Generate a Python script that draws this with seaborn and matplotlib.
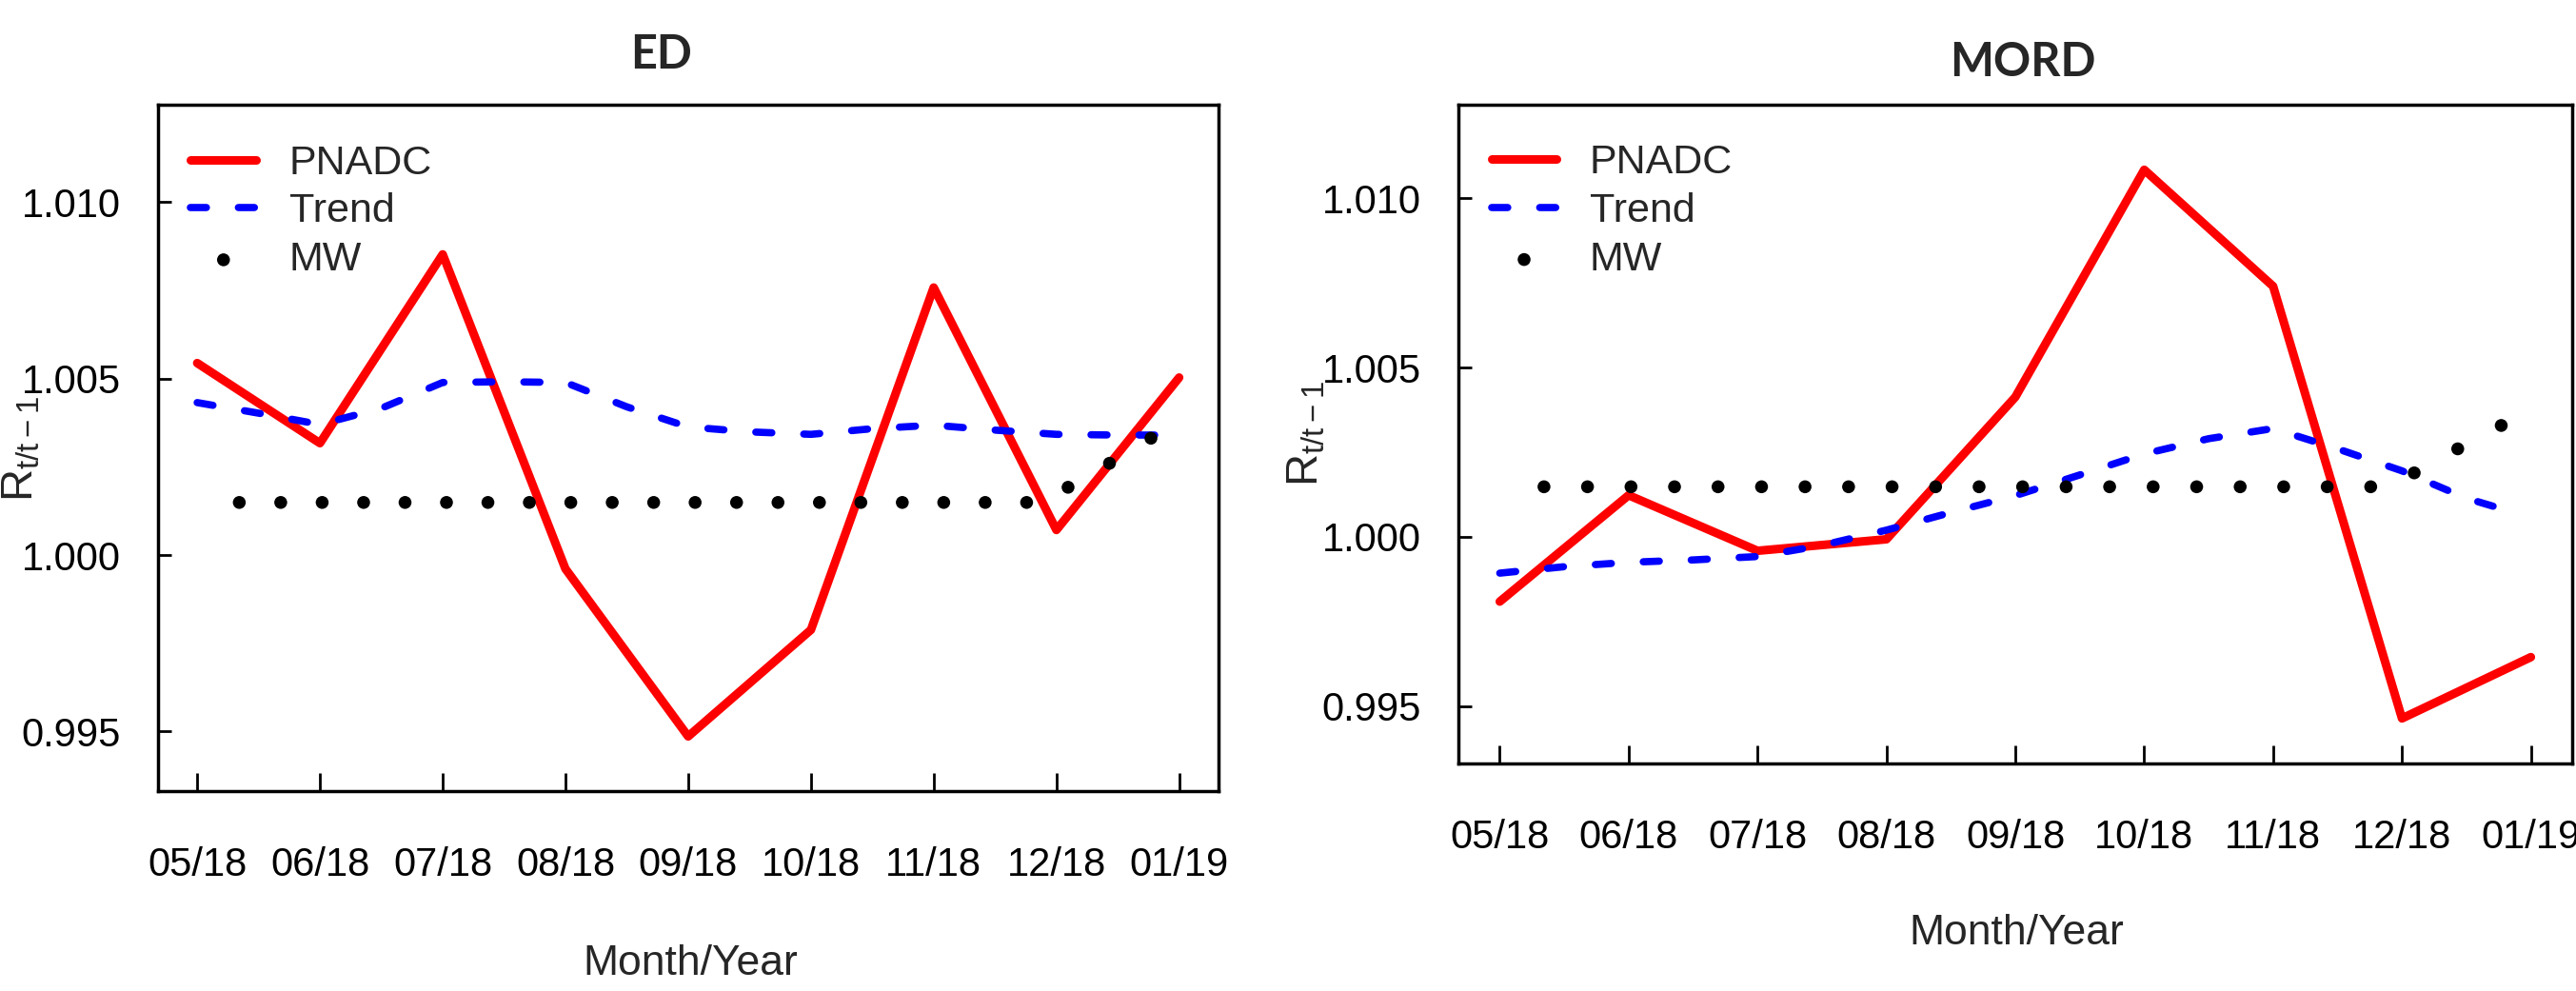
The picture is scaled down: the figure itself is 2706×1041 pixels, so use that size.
import numpy as np
import pandas as pd
import matplotlib.pyplot as plt
import seaborn as sns

# Data
months = ["05/18", "06/18", "07/18", "08/18", "09/18", "10/18", "11/18", "12/18", "01/19"]

ed_pnadc = [1.00544, 1.00317, 1.00852, 0.99961, 0.99486, 0.99788, 1.00758, 1.00071, 1.00503]
mord_pnadc = [0.99809, 1.00123, 0.99959, 0.99993, 1.00413, 1.01084, 1.00740, 0.99464, 0.99645]

# trend curves sampled every half month
trend_x = [0, 0.5, 1, 1.5, 2, 2.5, 3, 3.5, 4, 4.5, 5, 5.5, 6, 6.5, 7, 7.5, 7.8]
ed_trend = [1.00432, 1.00402, 1.00370, 1.00416, 1.00489, 1.00491, 1.00489, 1.00420, 1.00363,
            1.00349, 1.00342, 1.00358, 1.00368, 1.00354, 1.00342, 1.00340, 1.00340]
mord_trend = [0.99893, 0.99912, 0.99925, 0.99932, 0.99942, 0.99975, 1.00020, 1.00072, 1.00122,
              1.00183, 1.00245, 1.00290, 1.00320, 1.00260, 1.00195, 1.00114, 1.00080]

# MW series (23 points spread over the month axis)
mw_x = np.linspace(0.343, 7.77, 23)
ed_mw = [1.00149] * 20 + [1.00192, 1.00260, 1.00331]
mord_mw = [1.00148] * 20 + [1.00189, 1.00260, 1.00329]

sns.set_theme(style="white")
plt.rcParams["font.family"] = ["Liberation Sans Narrow", "Liberation Sans", "DejaVu Sans"]
plt.rcParams["mathtext.fontset"] = "custom"
plt.rcParams["mathtext.rm"] = "Liberation Sans"
plt.rcParams["mathtext.it"] = "Liberation Sans"


def draw_panel(ax, pnadc, trend, mw):
    df_p = pd.DataFrame({"x": range(len(months)), "y": pnadc})
    df_t = pd.DataFrame({"x": trend_x, "y": trend})
    df_m = pd.DataFrame({"x": mw_x, "y": mw})

    sns.lineplot(data=df_p, x="x", y="y", ax=ax, color="#ff0000", linewidth=6.5,
                 label="PNADC", solid_capstyle="round")
    sns.lineplot(data=df_t, x="x", y="y", ax=ax, color="#0000ff", linewidth=5.5,
                 linestyle=(0, (2.2, 4.4)), dash_capstyle="round", label="Trend")
    sns.scatterplot(data=df_m, x="x", y="y", ax=ax, color="black", s=95,
                    edgecolor="none", label="MW", zorder=3)

    ax.set_xlim(-0.32, 8.32)
    ax.set_ylim(0.99331, 1.01276)
    ax.set_xticks(range(len(months)), months)
    ax.set_yticks([0.995, 1.000, 1.005, 1.010], ["0.995", "1.000", "1.005", "1.010"])
    ax.set_xlabel("")
    ax.set_ylabel("")
    ax.tick_params(axis="x", direction="in", length=14, width=2, pad=42,
                   labelsize=30, colors="black", bottom=True)
    ax.tick_params(axis="y", direction="in", length=10, width=2, pad=28,
                   labelsize=30, colors="black", left=True)
    for sp in ax.spines.values():
        sp.set_color("black")
        sp.set_linewidth(2.5)

    ax.legend(loc="upper left", bbox_to_anchor=(0.0, 0.99), frameon=False,
              fontsize=31, handlelength=1.6, handletextpad=0.8, labelspacing=0.25,
              markerscale=1.0, borderaxespad=0.4)


fig = plt.figure(figsize=(27.06, 10.41), dpi=100)
ax1 = fig.add_axes([0.0613, 0.2017, 0.4117, 0.6926])
ax2 = fig.add_axes([0.5662, 0.2296, 0.4323, 0.6647])

draw_panel(ax1, ed_pnadc, ed_trend, ed_mw)
draw_panel(ax2, mord_pnadc, mord_trend, mord_mw)

# titles and axis labels
fig.text(695 / 2706, 1 - 57 / 1041, "ED", ha="center", va="center",
         fontsize=35, fontweight="bold", family="Lato")
fig.text(2125 / 2706, 1 - 66 / 1041, "MORD", ha="center", va="center",
         fontsize=35, fontweight="bold", family="Lato")
fig.text(725 / 2706, 1 - 1012 / 1041, "Month/Year", ha="center", va="center", fontsize=32)
fig.text(2118 / 2706, 1 - 981 / 1041, "Month/Year", ha="center", va="center", fontsize=32)
fig.text(22 / 2706, 1 - 471 / 1041, r"$\mathrm{R_{t/t-1}}$", ha="center", va="center",
         rotation=90, fontsize=34)
fig.text(1372 / 2706, 1 - 455 / 1041, r"$\mathrm{R_{t/t-1}}$", ha="center", va="center",
         rotation=90, fontsize=34)

fig.savefig("out.png", dpi=100)
